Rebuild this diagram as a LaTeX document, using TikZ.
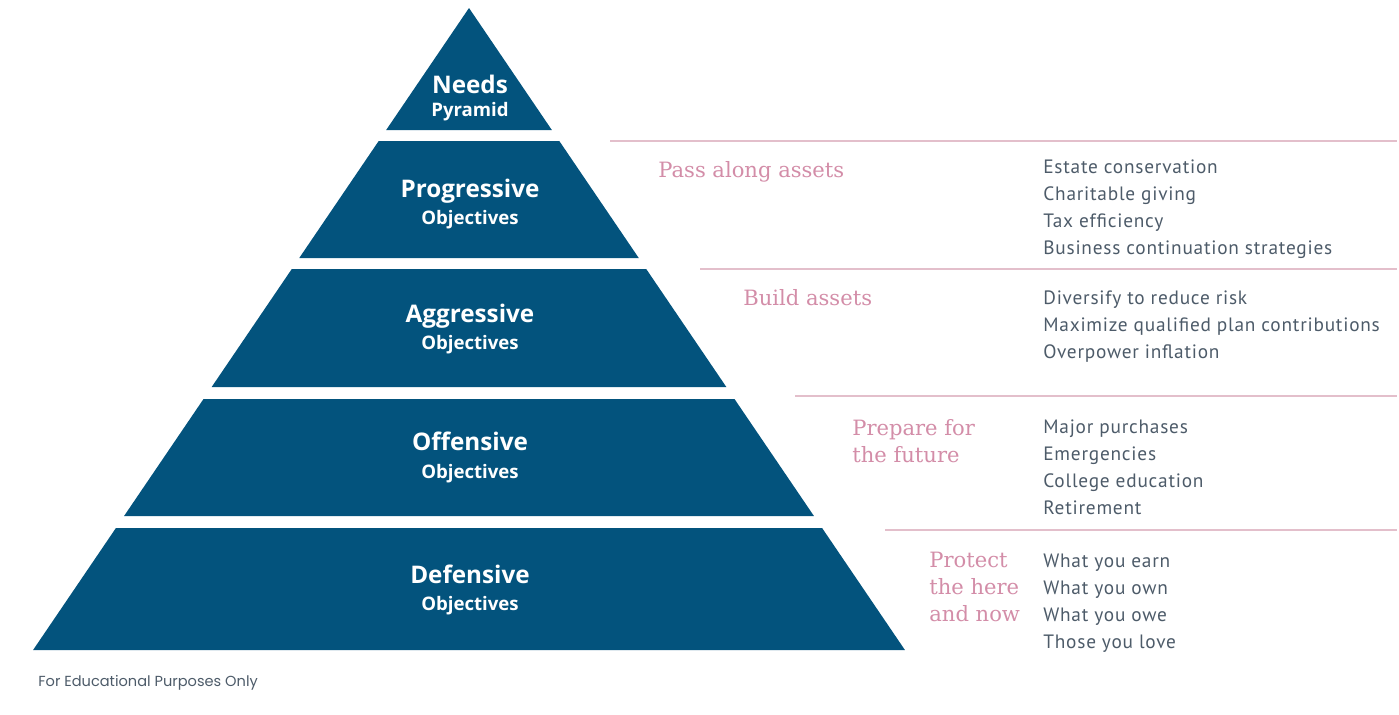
\documentclass[tikz,border=0pt]{standalone}
\usepackage{fontspec}
\setmainfont[LetterSpace=4]{PT Sans}
\newfontfamily\labfont{Open Sans}
\newfontfamily\goalfont{DejaVu Serif}
\newfontfamily\notefont{Poppins}
\definecolor{pyrblue}{HTML}{03537D}
\definecolor{goalpink}{HTML}{D38DA8}
\definecolor{linepink}{HTML}{E3BFCB}
\definecolor{itemgrey}{HTML}{4D5B69}
\tikzset{
	title/.style={text=white,inner sep=0pt,anchor=base,font=\labfont\bfseries\fontsize{13.8}{16}\selectfont},
	sub/.style={text=white,inner sep=0pt,anchor=base,font=\labfont\bfseries\fontsize{10.6}{12}\selectfont},
	goal/.style={text=goalpink,inner sep=0pt,anchor=base west,font=\goalfont\fontsize{12}{15}\selectfont},
	item/.style={text=itemgrey,inner sep=0pt,anchor=base west,font=\fontsize{11}{13}\selectfont},
	sepline/.style={linepink,line width=1.1pt}
}
\begin{document}
\begin{tikzpicture}[x=0.02cm,y=-0.02cm]
		\def\ax{469} % apex of the pyramid
		\def\ay{8}
		\def\k{0.679} % slope of the sides
		\useasboundingbox (0,0) rectangle (1399,714);
		% pyramid
		\fill[pyrblue] (\ax,\ay) -- ({\ax-\k*(130-\ay)},130) -- ({\ax+\k*(130-\ay)},130) -- cycle;
		\foreach \t/\b in {141/258,269/387,399/516,528/650}
		\fill[pyrblue] ({\ax-\k*(\t-\ay)},\t) -- ({\ax+\k*(\t-\ay)},\t) -- ({\ax+\k*(\b-\ay)},\b) -- ({\ax-\k*(\b-\ay)},\b) -- cycle;
		\node[title] (needs) at (470,93) {Needs};
		\node[sub] (needssub) at (470,116) {Pyramid};
		\node[title] (prog) at (470,197) {Progressive};
		\node[sub] (progsub) at (470,224) {Objectives};
		\node[title] (aggr) at (470,322) {Aggressive};
		\node[sub] (aggrsub) at (470,349) {Objectives};
		\node[title] (offe) at (470,450) {Offensive};
		\node[sub] (offesub) at (470,478) {Objectives};
		\node[title] (defe) at (470,583) {Defensive};
		\node[sub] (defesub) at (470,610) {Objectives};
		% separators
		\draw[sepline] (610,141) -- (1397,141);
		\draw[sepline] (700,269) -- (1397,269);
		\draw[sepline] (795,396) -- (1397,396);
		\draw[sepline] (885,530) -- (1397,530);
		% goals
		\node[goal] (pass) at (658,177) {Pass along assets};
		\node[goal] (build) at (743,305) {Build assets};
		\node[goal] (prep1) at (852,435) {Prepare for};
		\node[goal] (prep2) at (852,462) {the future};
		\node[goal] (prot1) at (929,567) {Protect};
		\node[goal] (prot2) at (929,594) {the here};
		\node[goal] (prot3) at (929,621) {and now};
		% lists
		\foreach \s [count=\i] in {Estate conservation,Charitable giving,Tax efficiency,Business continuation strategies}
		\node[item] (pass\i) at (1043,{173+27*(\i-1)}) {\s};
		\foreach \s [count=\i] in {Diversify to reduce risk,Maximize qualified plan contributions,Overpower inflation}
		\node[item] (build\i) at (1043,{304+27*(\i-1)}) {\s};
		\foreach \s [count=\i] in {Major purchases,Emergencies,College education,Retirement}
		\node[item] (prep\i) at (1043,{433+27*(\i-1)}) {\s};
		\foreach \s [count=\i] in {What you earn,What you own,What you owe,Those you love}
		\node[item] (prot\i) at (1043,{567+27*(\i-1)}) {\s};
		\node[text=itemgrey,inner sep=0pt,anchor=base west,font=\notefont\fontsize{8.3}{10}\selectfont] (note) at (38,686) {For Educational Purposes Only};
		\end{tikzpicture}
\end{document}
